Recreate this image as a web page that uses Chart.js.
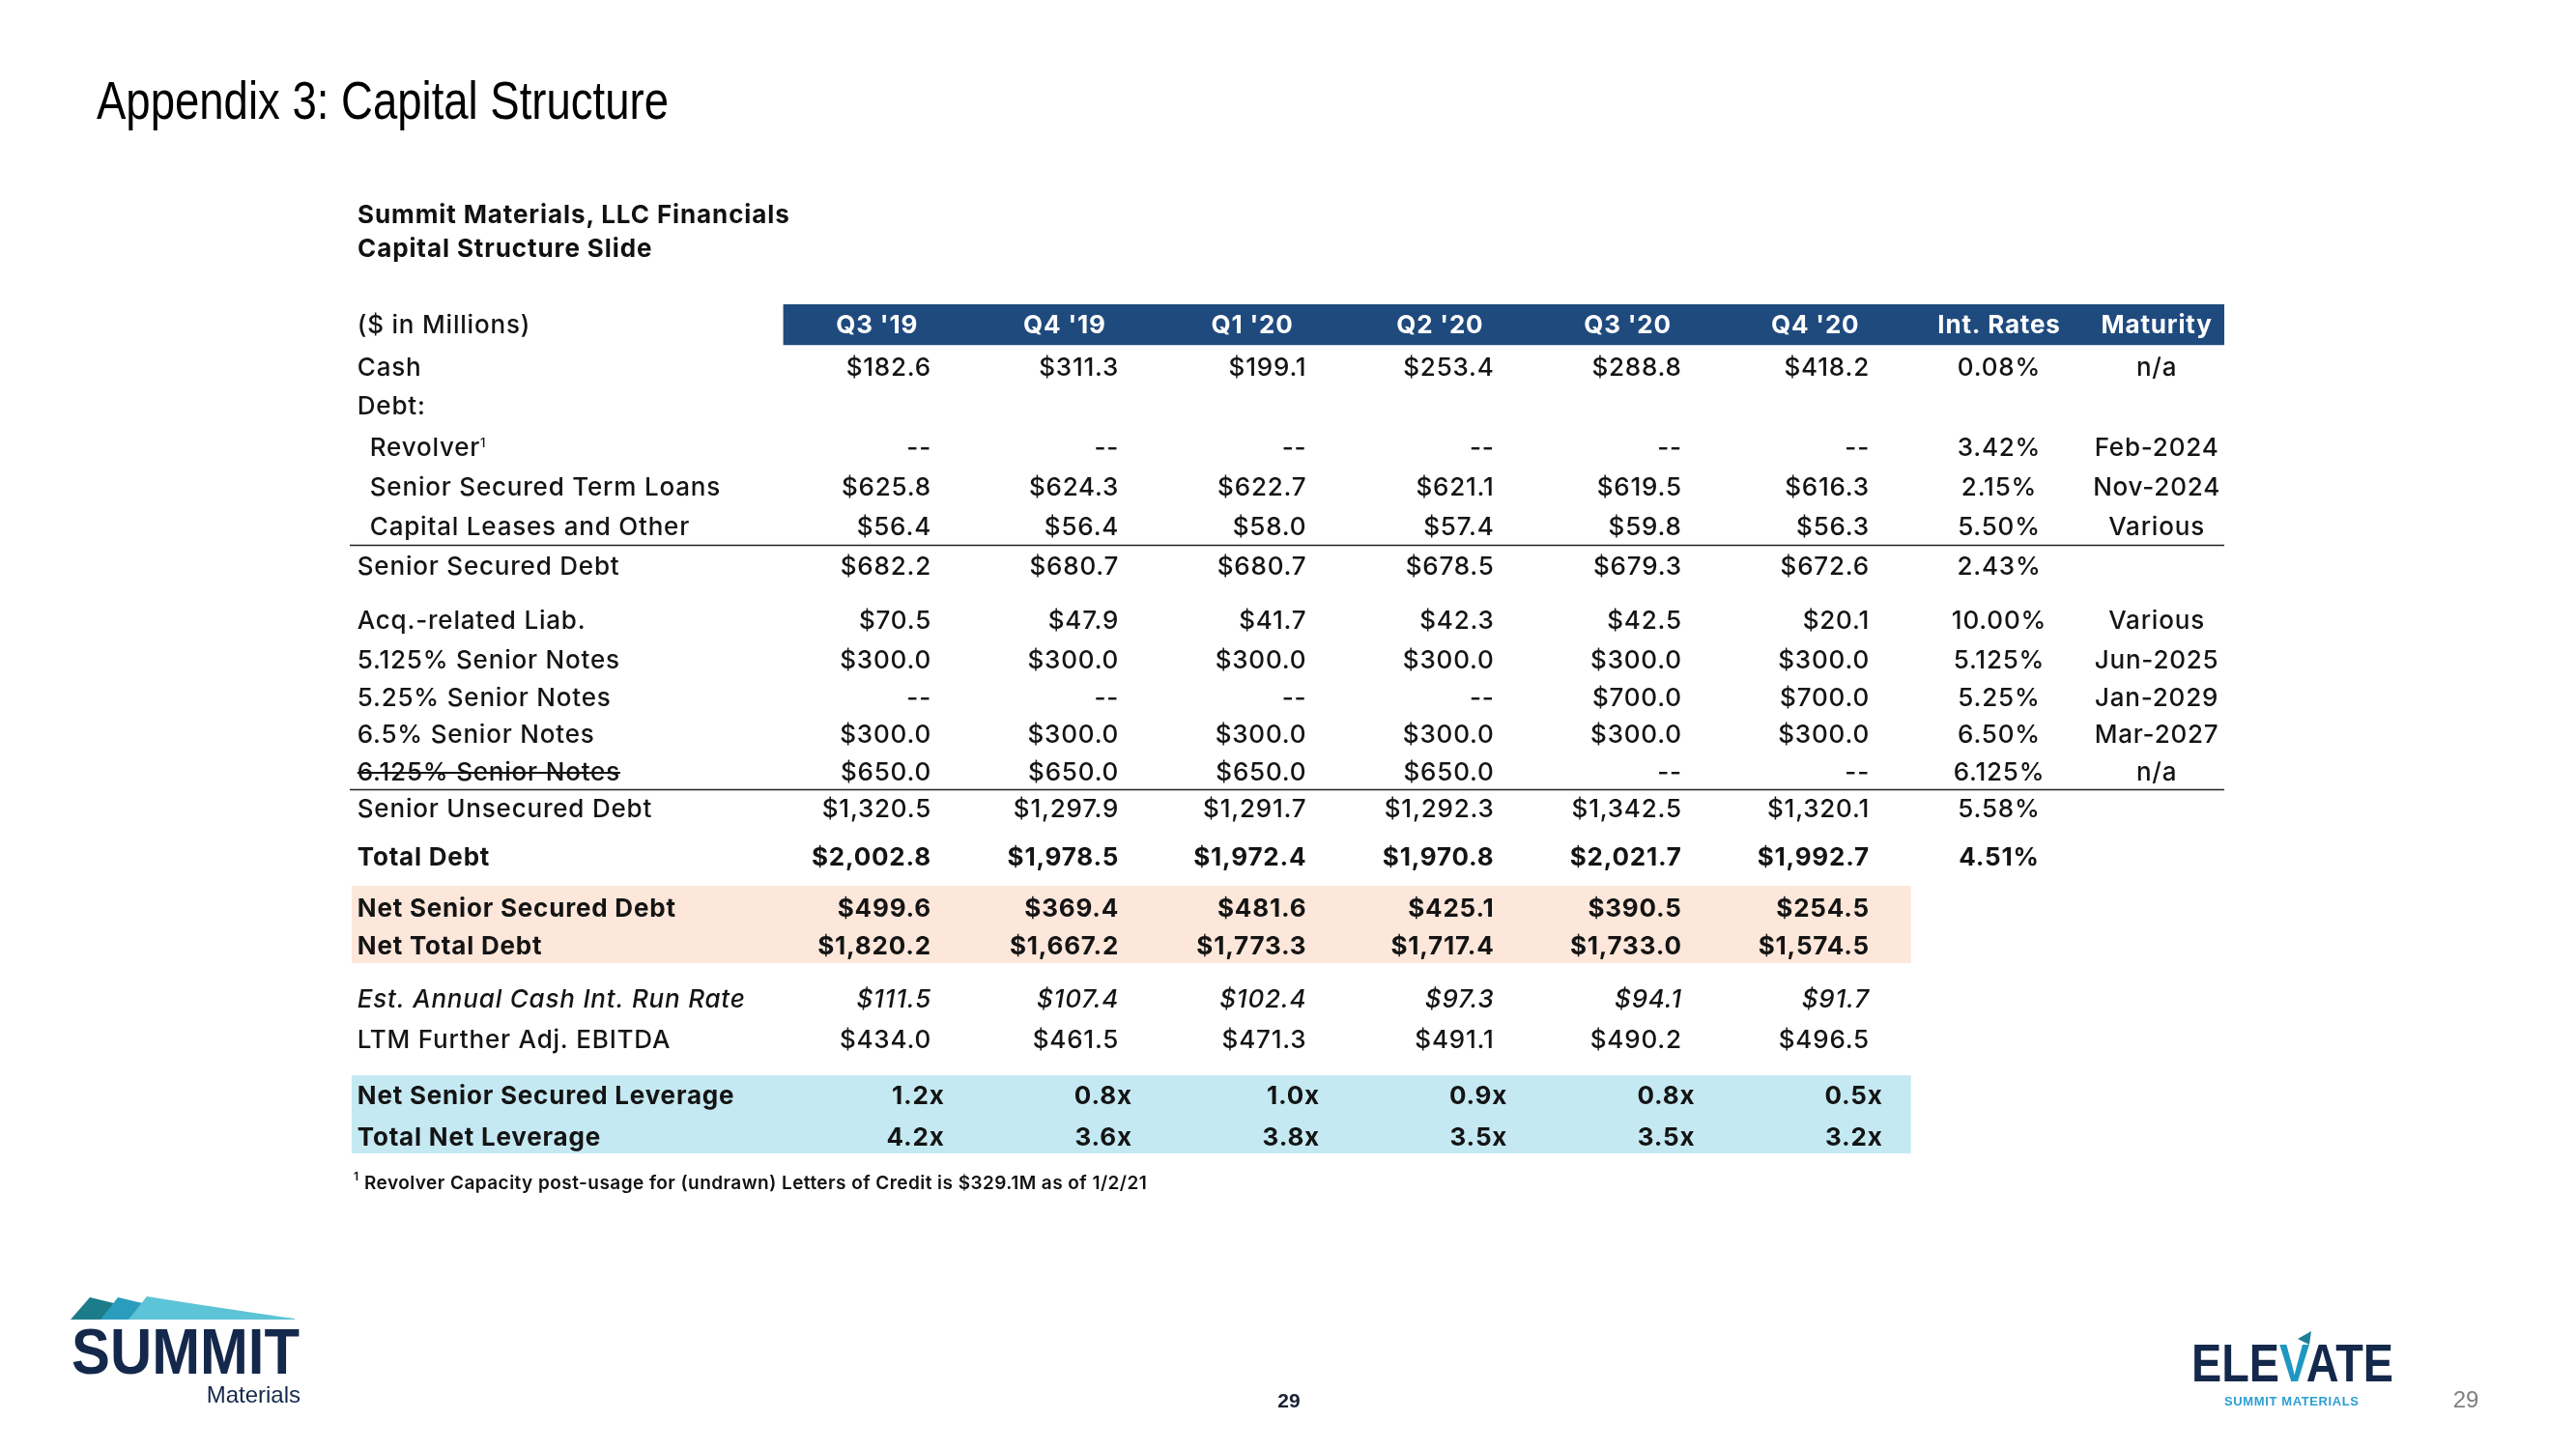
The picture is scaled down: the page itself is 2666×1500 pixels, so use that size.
<!DOCTYPE html>
<html>
<head>
<meta charset="utf-8">
<title>Appendix 3: Capital Structure</title>
<script src="https://cdn.jsdelivr.net/npm/chart.js@4.4.1/dist/chart.umd.min.js"></script>
<style>
  html, body { margin: 0; padding: 0; background: #fff; overflow: hidden; }
  #wrap { position: relative; width: 2666px; height: 1500px; }
  #table { position: absolute; left: 0; top: 0; }
  #overlay { position: absolute; left: 0; top: 0; }
</style>
</head>
<body>
<div id="wrap">
  <canvas id="table" width="2666" height="1500"></canvas>
  <svg id="overlay" width="2666" height="1500" xmlns="http://www.w3.org/2000/svg">
    <text x="100" y="123" font-family="Liberation Sans Narrow, Arial Narrow, sans-serif" font-size="56" fill="#000" textLength="592" lengthAdjust="spacingAndGlyphs">Appendix 3: Capital Structure</text>
    <text x="370" y="231" font-family="Inter, sans-serif" font-weight="700" font-size="26" letter-spacing="0.9" fill="#111">Summit Materials, LLC Financials</text>
    <text x="370" y="266" font-family="Inter, sans-serif" font-weight="700" font-size="26" letter-spacing="0.9" fill="#111">Capital Structure Slide</text>
    <text x="366" y="1222" font-family="Inter, sans-serif" font-weight="600" font-size="12" fill="#111">1</text>
    <text x="377" y="1231" font-family="Inter, sans-serif" font-weight="600" font-size="19" letter-spacing="0.45" fill="#111">Revolver Capacity post-usage for (undrawn) Letters of Credit is $329.1M as of 1/2/21</text>

    <!-- Summit Materials logo -->
    <polygon points="73,1366 93,1343 130,1352 122,1366" fill="#1d7c8a"/>
    <polygon points="104,1366 122,1343 160,1352 150,1366" fill="#2a9dbd"/>
    <path d="M133,1366 L152,1342 Q200,1350 305,1365 L305,1366 Z" fill="#5dc3d6"/>
    <text x="74" y="1422" font-family="Liberation Sans, Arial, sans-serif" font-weight="700" font-size="66" fill="#14284b" textLength="236" lengthAdjust="spacingAndGlyphs">SUMMIT</text>
    <text x="311" y="1452" text-anchor="end" font-family="Liberation Sans, Arial, sans-serif" font-size="24" fill="#14284b">Materials</text>

    <text x="1334" y="1457" text-anchor="middle" font-family="Liberation Sans, Arial, sans-serif" font-weight="700" font-size="21" fill="#1a2233">29</text>

    <!-- Elevate logo -->
    <text x="2268" y="1430" font-family="Liberation Sans, Arial, sans-serif" font-weight="700" font-size="56" fill="#14284b" textLength="209" lengthAdjust="spacingAndGlyphs">ELE<tspan fill="#1f97c2">V</tspan>ATE</text>
    <polygon points="2378,1386 2392,1378 2390,1392" fill="#1f7f98"/>
    <text x="2302" y="1455" font-family="Liberation Sans, Arial, sans-serif" font-weight="700" font-size="13" fill="#2a9fd0" textLength="139" lengthAdjust="spacing">SUMMIT MATERIALS</text>
    <text x="2552" y="1457" text-anchor="middle" font-family="Liberation Sans, Arial, sans-serif" font-size="24" fill="#808080">29</text>
  </svg>
</div>
<script>
// ---- data ----
const quarters = ["Q3 '19", "Q4 '19", "Q1 '20", "Q2 '20", "Q3 '20", "Q4 '20"];
const rowLabels = [
  'Cash', 'Debt:', 'Revolver', 'Senior Secured Term Loans', 'Capital Leases and Other',
  'Senior Secured Debt', 'Acq.-related Liab.', '5.125% Senior Notes', '5.25% Senior Notes',
  '6.5% Senior Notes', '6.125% Senior Notes', 'Senior Unsecured Debt', 'Total Debt',
  'Net Senior Secured Debt', 'Net Total Debt', 'Est. Annual Cash Int. Run Rate',
  'LTM Further Adj. EBITDA', 'Net Senior Secured Leverage', 'Total Net Leverage'
];
// null = blank cell, 0 = "--"
const q3_19 = [182.6, null, 0, 625.8, 56.4, 682.2, 70.5, 300.0, 0, 300.0, 650.0, 1320.5, 2002.8, 499.6, 1820.2, 111.5, 434.0, 1.2, 4.2];
const q4_19 = [311.3, null, 0, 624.3, 56.4, 680.7, 47.9, 300.0, 0, 300.0, 650.0, 1297.9, 1978.5, 369.4, 1667.2, 107.4, 461.5, 0.8, 3.6];
const q1_20 = [199.1, null, 0, 622.7, 58.0, 680.7, 41.7, 300.0, 0, 300.0, 650.0, 1291.7, 1972.4, 481.6, 1773.3, 102.4, 471.3, 1.0, 3.8];
const q2_20 = [253.4, null, 0, 621.1, 57.4, 678.5, 42.3, 300.0, 0, 300.0, 650.0, 1292.3, 1970.8, 425.1, 1717.4, 97.3, 491.1, 0.9, 3.5];
const q3_20 = [288.8, null, 0, 619.5, 59.8, 679.3, 42.5, 300.0, 700.0, 300.0, 0, 1342.5, 2021.7, 390.5, 1733.0, 94.1, 490.2, 0.8, 3.5];
const q4_20 = [418.2, null, 0, 616.3, 56.3, 672.6, 20.1, 300.0, 700.0, 300.0, 0, 1320.1, 1992.7, 254.5, 1574.5, 91.7, 496.5, 0.5, 3.2];
const intRates = ['0.08%', null, '3.42%', '2.15%', '5.50%', '2.43%', '10.00%', '5.125%', '5.25%', '6.50%', '6.125%', '5.58%', '4.51%', null, null, null, null, null, null];
const maturity = ['n/a', null, 'Feb-2024', 'Nov-2024', 'Various', null, 'Various', 'Jun-2025', 'Jan-2029', 'Mar-2027', 'n/a', null, null, null, null, null, null, null, null];
const series = [q3_19, q4_19, q1_20, q2_20, q3_20, q4_20];

// ---- layout / style ----
const rowPos = [1.08, 2.07, 3.13, 4.14, 5.15, 6.16, 7.54, 8.55, 9.51, 10.44, 11.4, 12.34, 13.57, 14.88, 15.84, 17.19, 18.23, 19.65, 20.71];
const rowStyle = ['n', 'n', 'i', 'i', 'i', 'n', 'n', 'n', 'n', 'n', 's', 'n', 'b', 'b', 'b', 'it', 'n', 'b', 'b'];
const multipleRows = [17, 18];
const labelX = -3.06, indentPx = 13;
const rateX = 5.69, matX = 6.53, headerOffset = -0.29, multOffset = 0.07;
const FONT = 'Inter, "Open Sans", sans-serif';
const SIZE = 26;
const SPACING = '0.8px';
const INK = '#141414';

function fontFor(style) {
  if (style === 'b') return '700 ' + SIZE + 'px ' + FONT;
  if (style === 'it') return 'italic 500 ' + SIZE + 'px ' + FONT;
  return '500 ' + SIZE + 'px ' + FONT;
}
function fmtValue(v, r) {
  if (v === 0) return '--';
  if (multipleRows.includes(r)) return v.toFixed(1) + 'x';
  return '$' + v.toLocaleString('en-US', { minimumFractionDigits: 1, maximumFractionDigits: 1 });
}

// datasets: one per column, points sit at (column, row) on the scales
const datasets = [];
datasets.push({ label: 'labels', kind: 'label', data: rowLabels.map((t, r) => ({ x: labelX, y: rowPos[r], r: r })) });
series.forEach((vals, c) => {
  datasets.push({
    label: quarters[c], kind: 'value',
    data: vals.map((v, r) => v === null ? null : { x: c, y: rowPos[r], r: r, v: v }).filter(Boolean)
  });
});
datasets.push({ label: 'Int. Rates', kind: 'text', data: intRates.map((t, r) => t === null ? null : { x: rateX, y: rowPos[r], r: r, t: t }).filter(Boolean) });
datasets.push({ label: 'Maturity', kind: 'text', data: maturity.map((t, r) => t === null ? null : { x: matX, y: rowPos[r], r: r, t: t }).filter(Boolean) });

function rectFor(chart, x0, x1, y0, y1, color) {
  const xs = chart.scales.x, ys = chart.scales.y;
  const ctx = chart.ctx;
  const px0 = xs.getPixelForValue(x0), px1 = xs.getPixelForValue(x1);
  const py0 = ys.getPixelForValue(y0), py1 = ys.getPixelForValue(y1);
  ctx.fillStyle = color;
  ctx.fillRect(px0, py0, px1 - px0, py1 - py0);
}
function hLine(chart, x0, x1, y) {
  const xs = chart.scales.x, ys = chart.scales.y;
  const ctx = chart.ctx;
  const py = Math.round(ys.getPixelForValue(y)) + 0.5;
  ctx.strokeStyle = '#222';
  ctx.lineWidth = 1.6;
  ctx.beginPath();
  ctx.moveTo(xs.getPixelForValue(x0), py);
  ctx.lineTo(xs.getPixelForValue(x1), py);
  ctx.stroke();
}
function put(ctx, text, x, cy, align, font, color) {
  ctx.font = font;
  ctx.letterSpacing = SPACING;
  ctx.fillStyle = color || INK;
  ctx.textAlign = align;
  ctx.textBaseline = 'alphabetic';
  ctx.fillText(text, x, cy + SIZE * 0.35);
}

const tablePlugin = {
  id: 'tablePlugin',
  beforeDatasetsDraw(chart) {
    const ctx = chart.ctx;
    ctx.save();
    rectFor(chart, -0.79, 6.89, -0.52, 0.52, '#1f4a7e');
    rectFor(chart, -3.09, 5.22, 14.31, 16.28, '#fce7da');
    rectFor(chart, -3.09, 5.22, 19.14, 21.13, '#c5e9f2');
    hLine(chart, -3.10, 6.89, 5.62);
    hLine(chart, -3.10, 6.89, 11.85);
    ctx.restore();
  },
  afterDatasetsDraw(chart) {
    const ctx = chart.ctx;
    const xs = chart.scales.x, ys = chart.scales.y;
    ctx.save();
    // header row
    const hy = ys.getPixelForValue(0);
    put(ctx, '($ in Millions)', xs.getPixelForValue(labelX), hy, 'left', '500 ' + SIZE + 'px ' + FONT);
    quarters.forEach((q, c) => put(ctx, q, xs.getPixelForValue(c + headerOffset), hy, 'center', '700 ' + SIZE + 'px ' + FONT, '#fff'));
    put(ctx, 'Int. Rates', xs.getPixelForValue(rateX), hy, 'center', '700 ' + SIZE + 'px ' + FONT, '#fff');
    put(ctx, 'Maturity', xs.getPixelForValue(matX), hy, 'center', '700 ' + SIZE + 'px ' + FONT, '#fff');

    chart.data.datasets.forEach((ds, di) => {
      const meta = chart.getDatasetMeta(di);
      meta.data.forEach((pt, j) => {
        const raw = ds.data[j];
        const st = rowStyle[raw.r];
        const font = fontFor(st);
        if (ds.kind === 'label') {
          const x = pt.x + (st === 'i' ? indentPx : 0);
          put(ctx, rowLabels[raw.r], x, pt.y, 'left', font);
          const w = ctx.measureText(rowLabels[raw.r]).width;
          if (raw.r === 2) {
            put(ctx, '1', x + w, pt.y - 9, 'left', '500 13px ' + FONT);
          }
          if (st === 's') {
            ctx.strokeStyle = INK;
            ctx.lineWidth = 2;
            ctx.beginPath();
            ctx.moveTo(x, pt.y + 1);
            ctx.lineTo(x + w, pt.y + 1);
            ctx.stroke();
          }
        } else if (ds.kind === 'value') {
          const shift = multipleRows.includes(raw.r) ? xs.getPixelForValue(multOffset) - xs.getPixelForValue(0) : 0;
          put(ctx, fmtValue(raw.v, raw.r), pt.x + shift, pt.y, 'right', font);
        } else {
          put(ctx, raw.t, pt.x, pt.y, 'center', font);
        }
      });
    });
    ctx.restore();
  }
};

document.fonts.load('500 26px Inter').then(() => document.fonts.load('700 26px Inter')).then(() => document.fonts.load('italic 500 26px Inter')).finally(() => {
  new Chart(document.getElementById('table').getContext('2d'), {
    type: 'scatter',
    data: { datasets: datasets },
    options: {
      responsive: false,
      animation: false,
      layout: { padding: { left: 362, right: 364, top: 315, bottom: 306 } },
      elements: { point: { radius: 0, hoverRadius: 0 } },
      scales: {
        x: { type: 'linear', min: -3.10, max: 6.89, display: false },
        y: { type: 'linear', min: -0.52, max: 21.13, reverse: true, display: false }
      },
      plugins: { legend: { display: false }, tooltip: { enabled: false } }
    },
    plugins: [tablePlugin]
  });
});
</script>
</body>
</html>
